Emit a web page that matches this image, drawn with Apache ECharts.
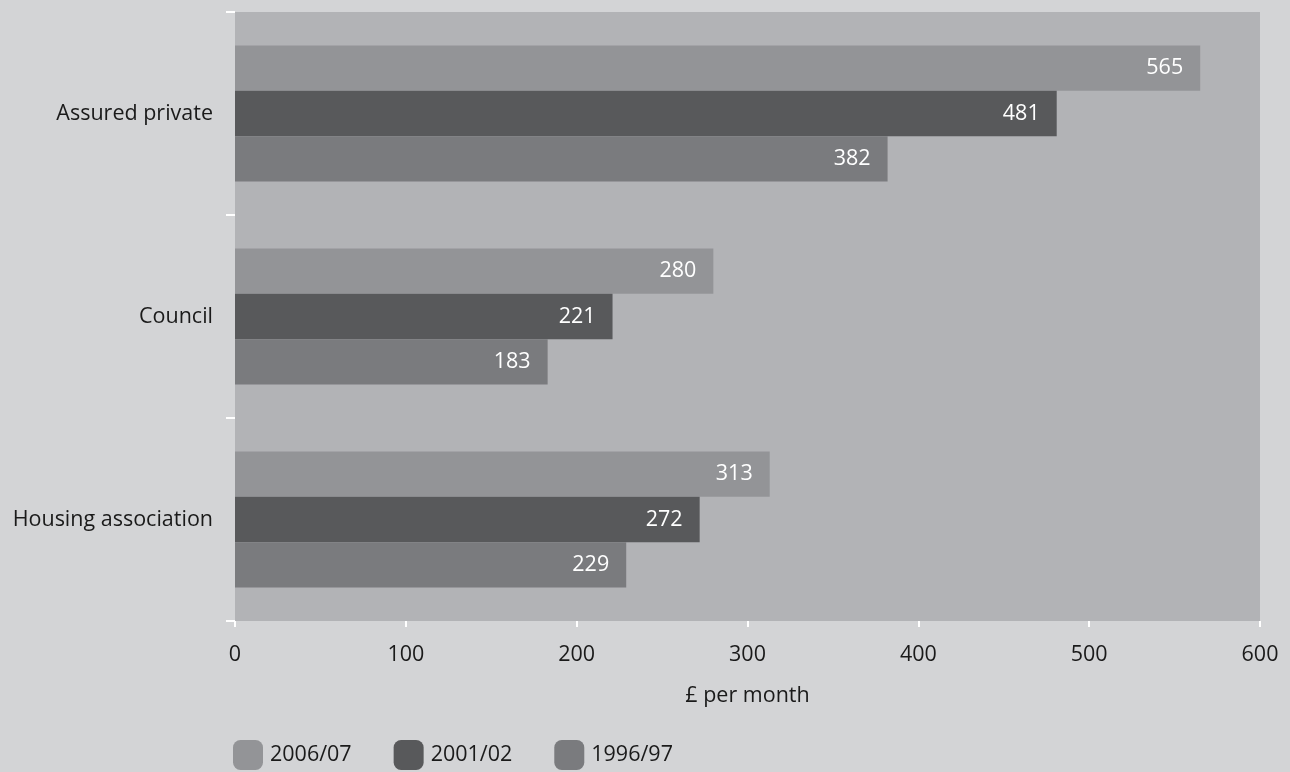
<!DOCTYPE html>
<html>
<head>
<meta charset="utf-8">
<script src="https://cdn.jsdelivr.net/npm/echarts@6/dist/echarts.min.js"></script>
<style>
  html, body { margin: 0; padding: 0; background: #d3d4d6; }
  #chart { width: 1290px; height: 772px; }
</style>
</head>
<body>
<div id="chart"></div>
<script>
// Average monthly rent by tenure type
const categories = ['Housing association', 'Council', 'Assured private'];
const rent200607 = [313, 280, 565];
const rent200102 = [272, 221, 481];
const rent199697 = [229, 183, 382];
const xTicks = [0, 100, 200, 300, 400, 500, 600];

const FONT = '"Open Sans", "Noto Sans", sans-serif';
const TEXT = '#1a1a1a';
const SIZE = 21.5;
const labelStyle = {
  show: true,
  position: 'insideRight',
  color: '#ffffff',
  fontFamily: FONT,
  fontSize: SIZE,
  distance: 17
};

const chart = echarts.init(document.getElementById('chart'));
chart.setOption({
  backgroundColor: '#d3d4d6',
  animation: false,
  textStyle: { fontFamily: FONT },
  grid: {
    left: 235, right: 30, top: 12, bottom: 151,
    show: true, backgroundColor: '#b2b3b6', borderWidth: 0
  },
  legend: {
    data: ['2006/07', '2001/02', '1996/97'],
    left: 228, top: 735,
    itemWidth: 30, itemHeight: 30, itemGap: 42,
    icon: 'roundRect',
    textStyle: { color: TEXT, fontSize: SIZE, fontFamily: FONT, padding: [0, 0, 0, 2] }
  },
  xAxis: {
    type: 'value',
    min: xTicks[0], max: xTicks[xTicks.length - 1], interval: 100,
    name: '£ per month',
    nameLocation: 'middle',
    nameGap: 64,
    nameTextStyle: { color: TEXT, fontSize: SIZE, fontFamily: FONT },
    axisLine: { show: false },
    axisTick: { show: true, length: 6, lineStyle: { color: '#ffffff', width: 2 } },
    axisLabel: { color: TEXT, fontSize: SIZE, fontFamily: FONT, margin: 23 },
    splitLine: { show: false }
  },
  yAxis: {
    type: 'category',
    data: categories,
    axisLine: { show: false },
    axisTick: { show: true, length: 9, lineStyle: { color: '#ffffff', width: 2 } },
    axisLabel: { color: TEXT, fontSize: SIZE, fontFamily: FONT, margin: 22 },
    splitLine: { show: false }
  },
  series: [
    { name: '2006/07', type: 'bar', data: rent200607, barGap: '0%', barCategoryGap: '33%',
      itemStyle: { color: '#939497' }, label: labelStyle },
    { name: '2001/02', type: 'bar', data: rent200102, barGap: '0%', barCategoryGap: '33%',
      itemStyle: { color: '#58595b' }, label: labelStyle },
    { name: '1996/97', type: 'bar', data: rent199697, barGap: '0%', barCategoryGap: '33%',
      itemStyle: { color: '#7a7b7e' }, label: labelStyle }
  ]
});
</script>
</body>
</html>
